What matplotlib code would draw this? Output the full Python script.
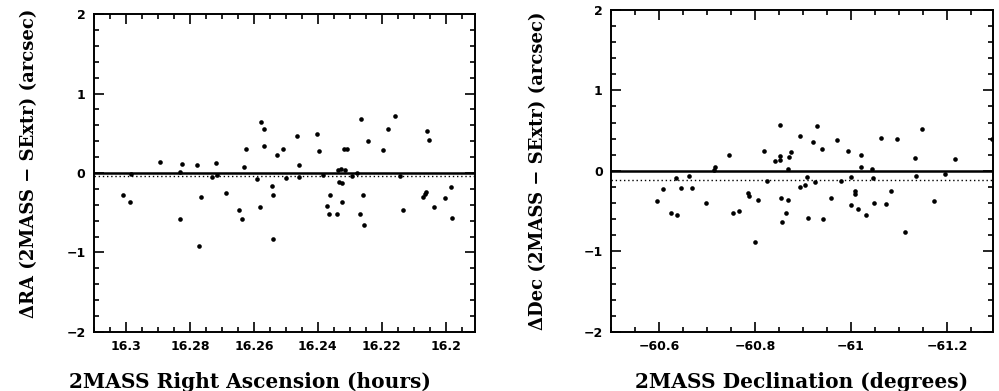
import numpy as np
import matplotlib
matplotlib.use("Agg")
import matplotlib.pyplot as plt
from matplotlib.ticker import MultipleLocator, FuncFormatter

# RA (hours) vs delta RA (arcsec)
ra_hours = [16.3009, 16.2988, 16.2983, 16.2892, 16.2832, 16.2825, 16.2831, 16.2778,
            16.2766, 16.2772, 16.2732, 16.2717, 16.2715, 16.2688, 16.2645, 16.2638,
            16.2631, 16.2626, 16.2591, 16.2580, 16.2579, 16.2568, 16.2569, 16.2543,
            16.2539, 16.2541, 16.2526, 16.2510, 16.2499, 16.2465, 16.2458, 16.2459,
            16.2404, 16.2396, 16.2384, 16.2361, 16.2370, 16.2364, 16.2339, 16.2337,
            16.2328, 16.2316, 16.2333, 16.2325, 16.2323, 16.2318, 16.2309, 16.2294,
            16.2276, 16.2264, 16.2260, 16.2267, 16.2256, 16.2243, 16.2196, 16.2182,
            16.2159, 16.2142, 16.2134, 16.2060, 16.2053, 16.2063, 16.2065, 16.2071,
            16.2036, 16.2003, 16.1984, 16.1981]
dra = [-0.277, -0.37, -0.01, 0.135, 0.01, 0.11, -0.58, 0.105,
       -0.30, -0.914, -0.055, 0.126, -0.025, -0.256, -0.465, -0.58,
       0.075, 0.306, -0.075, -0.43, 0.645, 0.56, 0.34, -0.16,
       -0.277, -0.835, 0.23, 0.30, -0.067, 0.46, 0.105, -0.055,
       0.486, 0.277, -0.03, -0.28, -0.42, -0.51, -0.51, 0.04,
       0.05, 0.04, -0.11, -0.12, -0.36, 0.30, 0.30, -0.04,
       0.005, 0.675, -0.28, -0.51, -0.65, 0.40, 0.29, 0.56,
       0.72, -0.04, -0.47, 0.525, 0.415, -0.235, -0.26, -0.306,
       -0.43, -0.315, -0.176, -0.56]

# Dec (degrees) vs delta Dec (arcsec)
dec_deg = [-60.595, -60.608, -60.626, -60.638, -60.635, -60.646, -60.663, -60.668,
           -60.698, -60.715, -60.717, -60.745, -60.754, -60.767, -60.786, -60.787,
           -60.800, -60.806, -60.818, -60.826, -60.841, -60.852, -60.853, -60.853,
           -60.854, -60.856, -60.864, -60.868, -60.868, -60.870, -60.876, -60.893,
           -60.893, -60.904, -60.909, -60.910, -60.921, -60.925, -60.930, -60.940,
           -60.942, -60.958, -60.971, -60.980, -60.993, -61.001, -61.000, -61.009,
           -61.009, -61.014, -61.020, -61.021, -61.032, -61.044, -61.045, -61.048,
           -61.063, -61.072, -61.083, -61.095, -61.112, -61.134, -61.136, -61.147,
           -61.172, -61.196, -61.217, -61.293]
ddec = [-0.377, -0.223, -0.517, -0.545, -0.09, -0.207, -0.062, -0.215,
        -0.405, 0.012, 0.045, 0.193, -0.52, -0.496, -0.277, -0.318,
        -0.88, -0.36, 0.25, -0.128, 0.128, 0.18, 0.136, 0.565,
        -0.343, -0.64, -0.52, -0.356, 0.025, 0.173, 0.24, 0.43,
        -0.203, -0.178, -0.075, -0.587, 0.36, -0.137, 0.557, 0.276,
        -0.595, -0.34, 0.384, -0.12, 0.248, -0.075, -0.418, -0.253,
        -0.285, -0.47, 0.193, 0.053, -0.545, 0.025, -0.087, -0.393,
        0.413, -0.41, -0.256, 0.40, -0.76, 0.157, -0.067, 0.52,
        -0.38, -0.037, 0.144, 0.39]

ra_mean_offset = -0.04
dec_mean_offset = -0.11

xlabel_font = dict(family="DejaVu Serif", weight="bold", size=14.5)
ylabel_font = dict(family="DejaVu Serif", weight="bold", size=13)


def fmt(v, pos):
    return ("%g" % round(v, 4)).replace("-", "\u2212")


def style_axes(ax):
    ax.set_ylim(-2, 2)
    ax.yaxis.set_major_locator(MultipleLocator(1))
    ax.yaxis.set_minor_locator(MultipleLocator(0.2))
    ax.yaxis.set_major_formatter(FuncFormatter(fmt))
    ax.xaxis.set_major_formatter(FuncFormatter(fmt))
    ax.tick_params(which="both", direction="in", top=True, right=True, width=1.2)
    ax.tick_params(which="major", length=7, labelsize=9, pad=6)
    ax.tick_params(which="minor", length=3.5)
    for lab in ax.get_xticklabels() + ax.get_yticklabels():
        lab.set_fontweight("bold")
    for s in ax.spines.values():
        s.set_linewidth(1.4)


fig = plt.figure(figsize=(9.99, 3.91), dpi=100)
ax1 = fig.add_axes([0.094, 0.151, 0.381, 0.813])
ax2 = fig.add_axes([0.6116, 0.151, 0.382, 0.824])

ax1.scatter(ra_hours, dra, s=11, c="black", linewidths=0)
ax1.axhline(0, color="black", lw=1.8)
ax1.axhline(ra_mean_offset, color="black", lw=1, ls=(0, (1, 2)))
ax1.set_xlim(16.31, 16.191)
ax1.xaxis.set_major_locator(MultipleLocator(0.02))
ax1.xaxis.set_minor_locator(MultipleLocator(0.005))
style_axes(ax1)
ax1.set_xlabel("2MASS Right Ascension (hours)", **xlabel_font)
ax1.set_ylabel("\u0394RA (2MASS \u2212 SExtr) (arcsec)", **ylabel_font)
ax1.xaxis.set_label_coords(0.41, -0.126)
ax1.yaxis.set_label_coords(-0.147, 0.531)

ax2.scatter(dec_deg, ddec, s=11, c="black", linewidths=0)
ax2.axhline(0, color="black", lw=1.8)
ax2.axhline(dec_mean_offset, color="black", lw=1, ls=(0, (1, 2)))
ax2.set_xlim(-60.5, -61.295)
ax2.xaxis.set_major_locator(MultipleLocator(0.2))
ax2.xaxis.set_minor_locator(MultipleLocator(0.05))
style_axes(ax2)
ax2.set_xlabel("2MASS Declination (degrees)", **xlabel_font)
ax2.set_ylabel("\u0394Dec (2MASS \u2212 SExtr) (arcsec)", **ylabel_font)
ax2.xaxis.set_label_coords(0.5, -0.124)
ax2.yaxis.set_label_coords(-0.168, 0.5)

plt.savefig("out.png", dpi=100)
